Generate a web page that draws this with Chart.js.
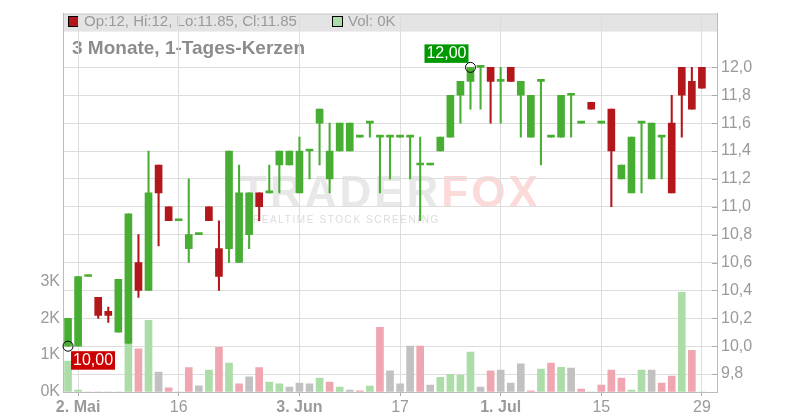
<!DOCTYPE html>
<html lang="de">
<head>
<meta charset="UTF-8">
<title>3 Monate, 1-Tages-Kerzen</title>
<style>
  *{margin:0;padding:0;box-sizing:border-box;}
  body{background:#fff;width:800px;height:420px;overflow:hidden;}
</style>
</head>
<body>
<canvas id="chart" width="800" height="420"></canvas>
<script src="https://cdn.jsdelivr.net/npm/chart.js@4.4.1/dist/chart.umd.min.js"></script>
<script>
/* ---- Daten (Handelstage, Kurse in EUR, Volumen in Tsd.) ---- */
const days = [
  '01.05.','02.05.','03.05.','06.05.','07.05.','08.05.','09.05.','10.05.','13.05.','14.05.','15.05.','16.05.',
  '17.05.','20.05.','21.05.','22.05.','23.05.','24.05.','27.05.','28.05.','29.05.','30.05.','31.05.',
  '03.06.','04.06.','05.06.','06.06.','07.06.','10.06.','11.06.','12.06.','13.06.','14.06.',
  '17.06.','18.06.','19.06.','20.06.','21.06.','24.06.','25.06.','26.06.','27.06.','28.06.',
  '01.07.','02.07.','03.07.','04.07.','05.07.','08.07.','09.07.','10.07.','11.07.','12.07.',
  '15.07.','16.07.','17.07.','18.07.','19.07.','22.07.','23.07.','24.07.','25.07.','26.07.','29.07.','30.07.'
];
const opens  = [10.0,10.0,10.5,10.35,10.25,10.1,10.02,10.6,10.4,11.3,11.0,10.9,10.7,10.8,11.0,10.7,
                10.7,10.6,10.8,11.1,11.1,11.3,11.3,11.1,11.4,11.6,11.2,11.4,11.4,11.5,11.6,11.5,
                11.5,11.5,11.5,11.3,11.3,11.4,11.5,11.8,11.9,12.0,12.0,11.9,12.0,11.8,11.5,11.9,
                11.5,11.5,11.8,11.6,11.75,11.6,11.7,11.2,11.1,11.6,11.2,11.5,11.6,12.0,11.9,12.0];
const highs  = [10.2,10.5,10.5,10.35,10.28,10.48,10.95,10.8,11.4,11.3,11.0,10.9,11.2,10.8,11.0,10.9,
                11.4,11.3,11.1,11.1,11.3,11.4,11.4,11.5,11.4,11.7,11.6,11.6,11.6,11.5,11.6,11.5,
                11.5,11.5,11.5,11.5,11.3,11.5,11.8,11.9,12.0,12.0,12.0,12.0,12.0,11.9,11.8,11.9,
                11.5,11.8,11.8,11.6,11.75,11.6,11.7,11.3,11.5,11.6,11.6,11.5,11.8,12.0,12.0,12.0];
const lows   = [10.0,10.0,10.5,10.2,10.17,10.1,10.02,10.35,10.4,10.72,10.9,10.9,10.6,10.8,10.9,10.4,
                10.6,10.6,10.7,10.9,11.1,11.1,11.3,11.1,11.2,11.3,11.1,11.4,11.4,11.5,11.5,11.1,
                11.2,11.5,11.2,10.9,11.3,11.4,11.5,11.6,11.7,11.7,11.6,11.6,11.9,11.5,11.5,11.3,
                11.5,11.5,11.5,11.6,11.7,11.6,11.0,11.2,11.1,11.1,11.2,11.2,11.1,11.5,11.7,11.85];
const closes = [10.2,10.5,10.5,10.22,10.22,10.48,10.95,10.4,11.1,11.1,10.9,10.9,10.8,10.8,10.9,10.5,
                11.4,11.1,11.1,11.0,11.1,11.4,11.4,11.4,11.4,11.7,11.4,11.6,11.6,11.5,11.6,11.5,
                11.5,11.5,11.5,11.3,11.3,11.5,11.8,11.9,12.0,12.0,11.9,11.9,11.9,11.9,11.8,11.9,
                11.5,11.8,11.8,11.6,11.7,11.6,11.4,11.3,11.5,11.6,11.6,11.5,11.1,11.8,11.7,11.85];
const volumes = [0.84,0.05,0,0,0,0,1.3,1.17,1.94,0.54,0.11,0,0.66,0.17,0.59,1.21,
                 0.78,0.22,0.41,0.66,0.27,0.22,0.13,0.24,0.22,0.38,0.27,0.13,0.05,0.03,0.16,1.75,
                 0.57,0.22,1.24,1.24,0.19,0.40,0.48,0.46,1.08,0.13,0.57,0.59,0.24,0.76,0.03,0.62,
                 0.78,0.67,0.65,0.08,0,0.19,0.59,0.38,0.05,0.59,0.59,0.24,0.43,2.70,1.13,0];
const priceTicks = [9.8,10.0,10.2,10.4,10.6,10.8,11.0,11.2,11.4,11.6,11.8,12.0];
const volTicks = [0,1,2,3];
const xTickIdx  = [1,11,23,33,43,53,63];
const xTickText = ['2. Mai','16','3. Jun','17','1. Jul','15','29'];
const xTickBold = [true,false,true,false,true,false,false];

/* ---- Farben ---- */
const GREEN='#48ad33', RED='#b3161b';
const VOL_UP='#acdca7', VOL_DN='#efa6b0', VOL_EQ='#c1c1c1';
const FONT='"Liberation Sans", Arial, sans-serif';

const bodyColors = opens.map((o,i)=>closes[i]>=o?GREEN:RED);
const volColors = closes.map((c,i)=>{
  if(i===0) return VOL_UP;
  const p=closes[i-1];
  return c>p?VOL_UP:(c<p?VOL_DN:VOL_EQ);
});

const fmt = v => v.toFixed(1).replace('.',',');

/* ---- Deko: Kopfzeile, Titel, Wasserzeichen, Markierungen ---- */
const decor = {
  id:'decor',
  beforeDraw(chart){
    const {ctx,chartArea:a}=chart;
    ctx.save();
    // Kopfband
    ctx.fillStyle='#e4e4e4';
    ctx.fillRect(a.left,a.top,a.right-a.left,18);
    ctx.strokeStyle='#cccccc';ctx.lineWidth=1;
    ctx.beginPath();ctx.moveTo(a.left,a.top+0.5);ctx.lineTo(a.right,a.top+0.5);ctx.stroke();
    // Legende
    const last=opens.length-1;
    ctx.fillStyle=bodyColors[last];ctx.fillRect(68.5,16.5,10,10);
    ctx.strokeStyle='#000';ctx.strokeRect(68.5,16.5,10,10);
    ctx.fillStyle=volColors[last];ctx.fillRect(332.5,16.5,10,10);
    ctx.strokeRect(332.5,16.5,10,10);
    ctx.font='15px '+FONT;ctx.fillStyle='#9a9a9a';ctx.textBaseline='middle';
    ctx.fillText(`Op:${opens[last]}, Hi:${highs[last]}, Lo:${lows[last]}, Cl:${closes[last]}`,84,22);
    ctx.fillText(`Vol: ${Math.round(volumes[last])}K`,348,22);
    // Titel
    ctx.font='bold 19px '+FONT;ctx.fillStyle='#8c8c8c';ctx.textBaseline='alphabetic';
    ctx.fillText('3 Monate, 1-Tages-Kerzen',72,54);
    // Wasserzeichen
    ctx.font='bold 44px '+FONT;ctx.letterSpacing='3px';
    ctx.fillStyle='#e8e8e8';ctx.fillText('TRADER',240,207);
    const w=ctx.measureText('TRADER').width;
    ctx.fillStyle='#fcdada';ctx.fillText('FOX',240+w,207);
    ctx.font='10px '+FONT;ctx.letterSpacing='1.6px';ctx.fillStyle='#dcdcdc';
    ctx.fillText('REALTIME STOCK SCREENING',253,223);
    ctx.restore();
  },
  afterDatasetsDraw(chart){
    const {ctx,scales:{x,y}}=chart;
    const hi=Math.max(...highs), lo=Math.min(...lows);
    const iHi=highs.indexOf(hi), iLo=lows.indexOf(lo);
    ctx.save();
    ctx.font='16px '+FONT;ctx.textBaseline='middle';ctx.textAlign='center';
    // Hoch
    let cx=x.getPixelForValue(iHi), cy=y.getPixelForValue(hi);
    ctx.fillStyle='#009a00';ctx.fillRect(cx-46,cy-23,44,18.5);
    ctx.fillStyle='#fff';ctx.fillText(hi.toFixed(2).replace('.',','),cx-24,cy-13.5);
    ctx.strokeStyle='#000';ctx.lineWidth=1;
    ctx.beginPath();ctx.arc(cx,cy,5,0,Math.PI*2);ctx.stroke();
    // Tief
    cx=x.getPixelForValue(iLo); cy=y.getPixelForValue(lo);
    ctx.fillStyle='#cc0000';ctx.fillRect(cx+3,cy+5,44,18.5);
    ctx.fillStyle='#fff';ctx.fillText(lo.toFixed(2).replace('.',','),cx+25,cy+14.5);
    ctx.beginPath();ctx.arc(cx,cy,5,0,Math.PI*2);ctx.stroke();
    ctx.restore();
  },
  afterDraw(chart){
    const {ctx,chartArea:a,scales:{y}}=chart;
    ctx.save();ctx.strokeStyle='#aaaaaa';ctx.lineWidth=1;
    priceTicks.forEach(v=>{
      const py=Math.round(y.getPixelForValue(v))+0.5;
      ctx.beginPath();ctx.moveTo(a.right-5,py);ctx.lineTo(a.right,py);ctx.stroke();
    });
    ctx.restore();
  }
};

new Chart(document.getElementById('chart'),{
  type:'bar',
  data:{
    labels:days,
    datasets:[
      {label:'Körper',data:opens.map((o,i)=>[o,closes[i]]),backgroundColor:bodyColors,
       barThickness:7,minBarLength:2,grouped:false,yAxisID:'y',order:1},
      {label:'Docht',data:lows.map((l,i)=>[l,highs[i]]),backgroundColor:bodyColors,
       barThickness:1.4,grouped:false,yAxisID:'y',order:2},
      {label:'Volumen',data:volumes,backgroundColor:volColors,
       barThickness:7,grouped:false,yAxisID:'yVol',order:3}
    ]
  },
  options:{
    responsive:false,animation:false,
    layout:{padding:{top:12,left:0,right:0,bottom:0}},
    plugins:{legend:{display:false},tooltip:{enabled:false}},
    scales:{
      x:{
        offset:true,
        grid:{offset:false,color:'#dddddd',tickLength:4,tickColor:'#aaaaaa'},
        border:{color:'#bbbbbb'},
        afterBuildTicks:s=>{s.ticks=xTickIdx.map(v=>({value:v}));},
        afterFit:s=>{s.height=28;},
        ticks:{autoSkip:false,maxRotation:0,padding:2,color:'#9a9a9a',
          callback:v=>xTickText[xTickIdx.indexOf(v)],
          font:c=>({family:FONT,size:16,weight:(c.tick&&xTickBold[xTickIdx.indexOf(c.tick.value)])?'bold':'normal'})}
      },
      y:{
        position:'right',min:9.6714,max:12.3857,
        grid:{color:'#dddddd',drawTicks:false},
        border:{color:'#bbbbbb'},
        afterBuildTicks:s=>{s.ticks=priceTicks.map(v=>({value:v}));},
        afterFit:s=>{s.width=83;},
        ticks:{padding:4,color:'#9a9a9a',font:{family:FONT,size:16},callback:v=>fmt(v)}
      },
      yVol:{
        position:'left',min:0,max:10.24,
        grid:{drawOnChartArea:false,drawTicks:false},
        border:{color:'#bbbbbb'},
        afterBuildTicks:s=>{s.ticks=volTicks.map(v=>({value:v}));},
        afterFit:s=>{s.width=63;},
        ticks:{padding:3,color:'#9a9a9a',font:{family:FONT,size:16},callback:v=>v+'K'}
      }
    }
  },
  plugins:[decor]
});
</script>
</body>
</html>
